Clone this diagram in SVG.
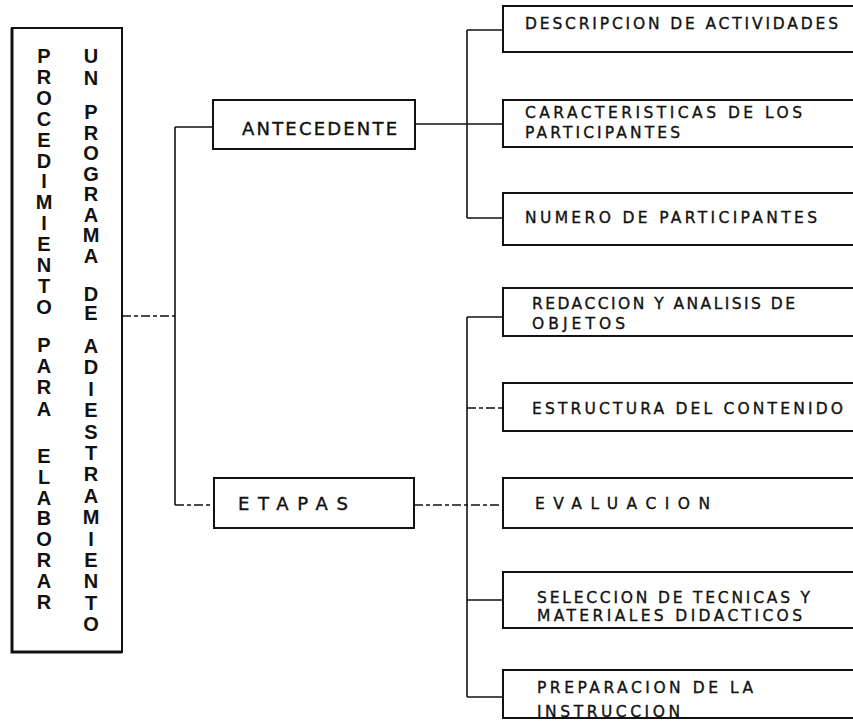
<svg xmlns="http://www.w3.org/2000/svg" width="853" height="722" viewBox="0 0 853 722">
  <style>
    .box { fill: #fff; stroke: #111; stroke-width: 2; }
    .line { fill: none; stroke: #111; stroke-width: 1.6; }
    .dash { fill: none; stroke: #111; stroke-width: 1.6; stroke-dasharray: 9 3 4 3; }
    .vert { font-family: "Liberation Sans", Arial, sans-serif; font-weight: bold; font-size: 20px; fill: #111; text-anchor: middle; }
    .lbl { font-family: "DejaVu Sans", "Liberation Sans", sans-serif; font-size: 15.5px; fill: #111; stroke: #111; stroke-width: 0.35; }
    .mid { font-family: "DejaVu Sans", "Liberation Sans", sans-serif; font-size: 18px; fill: #111; stroke: #111; stroke-width: 0.4; }
  </style>
  <rect width="853" height="722" fill="#fff"/>

  <!-- connectors -->
  <g id="connectors">
    <path class="dash" d="M122,316 H175"/>
    <path class="line" d="M175,127 V505"/>
    <path class="line" d="M175,127 H213"/>
    <path class="dash" d="M175,505 H214"/>
    <path class="line" d="M415,124 H503"/>
    <path class="line" d="M467,30 V218"/>
    <path class="line" d="M467,30 H503"/>
    <path class="line" d="M467,218 H503"/>
    <path class="dash" d="M414,505 H503"/>
    <path class="line" d="M467,317 V697"/>
    <path class="line" d="M467,317 H503"/>
    <path class="dash" d="M467,408 H503"/>
    <path class="line" d="M467,600 H503"/>
    <path class="line" d="M467,697 H503"/>
  </g>

  <!-- title box with vertical lettering -->
  <g id="titulo">
    <rect class="box" x="12" y="28" width="110" height="624"/>
    <path d="M12,28 V652 H122" fill="none" stroke="#111" stroke-width="3"/>
    <text class="vert" x="44 44 44 44 44 44 44 44 44 44 44 44 44" y="63 84 105 126 147 168 188 209 230 251 272 293 314">PROCEDIMIENTO</text>
    <text class="vert" x="44 44 44 44" y="352 373 394 416">PARA</text>
    <text class="vert" x="44 44 44 44 44 44 44 44" y="463 484 505 525 546 567 588 609">ELABORAR</text>
    <text class="vert" x="91 91" y="63 85">UN</text>
    <text class="vert" x="91 91 91 91 91 91 91 91" y="119 140 160 181 201 222 242 263">PROGRAMA</text>
    <text class="vert" x="91 91" y="301 320">DE</text>
    <text class="vert" x="91 91 91 91 91 91 91 91 91 91 91 91 91 91" y="353 374 396 417 439 460 481 503 524 546 567 588 610 631">ADIESTRAMIENTO</text>
  </g>

  <g id="antecedente">
    <rect class="box" x="213" y="100" width="202" height="49"/>
    <text class="mid" x="242" y="135" textLength="155" lengthAdjust="spacing">ANTECEDENTE</text>
  </g>

  <g id="etapas">
    <rect class="box" x="214" y="478" width="200" height="50"/>
    <text class="mid" x="238" y="510" textLength="110" lengthAdjust="spacing">ETAPAS</text>
  </g>

  <g id="descripcion">
    <rect class="box" x="503" y="6" width="370" height="46"/>
    <text class="lbl" x="525" y="29" textLength="313" lengthAdjust="spacing">DESCRIPCION DE ACTIVIDADES</text>
  </g>

  <g id="caracteristicas">
    <rect class="box" x="503" y="100" width="370" height="47"/>
    <text class="lbl" x="525" y="118" textLength="277" lengthAdjust="spacing">CARACTERISTICAS DE LOS</text>
    <text class="lbl" x="525" y="138" textLength="155" lengthAdjust="spacing">PARTICIPANTES</text>
  </g>

  <g id="numero">
    <rect class="box" x="503" y="193" width="370" height="52"/>
    <text class="lbl" x="525" y="223" textLength="292" lengthAdjust="spacing">NUMERO DE PARTICIPANTES</text>
  </g>

  <g id="redaccion">
    <rect class="box" x="503" y="288" width="370" height="48"/>
    <text class="lbl" x="532" y="309" textLength="263" lengthAdjust="spacing">REDACCION Y ANALISIS DE</text>
    <text class="lbl" x="532" y="329" textLength="93" lengthAdjust="spacing">OBJETOS</text>
  </g>

  <g id="estructura">
    <rect class="box" x="503" y="383" width="370" height="48"/>
    <text class="lbl" x="532" y="414" textLength="311" lengthAdjust="spacing">ESTRUCTURA DEL CONTENIDO</text>
  </g>

  <g id="evaluacion">
    <rect class="box" x="503" y="478" width="370" height="50"/>
    <text class="lbl" x="535" y="509" textLength="175" lengthAdjust="spacing">EVALUACION</text>
  </g>

  <g id="seleccion">
    <rect class="box" x="503" y="572" width="370" height="56"/>
    <text class="lbl" x="537" y="603" textLength="273" lengthAdjust="spacing">SELECCION DE TECNICAS Y</text>
    <text class="lbl" x="537" y="621" textLength="265" lengthAdjust="spacing">MATERIALES DIDACTICOS</text>
  </g>

  <g id="preparacion">
    <rect class="box" x="503" y="670" width="370" height="48"/>
    <text class="lbl" x="537" y="693" textLength="216" lengthAdjust="spacing">PREPARACION DE LA</text>
    <text class="lbl" x="537" y="717" textLength="143" lengthAdjust="spacing">INSTRUCCION</text>
  </g>
</svg>
